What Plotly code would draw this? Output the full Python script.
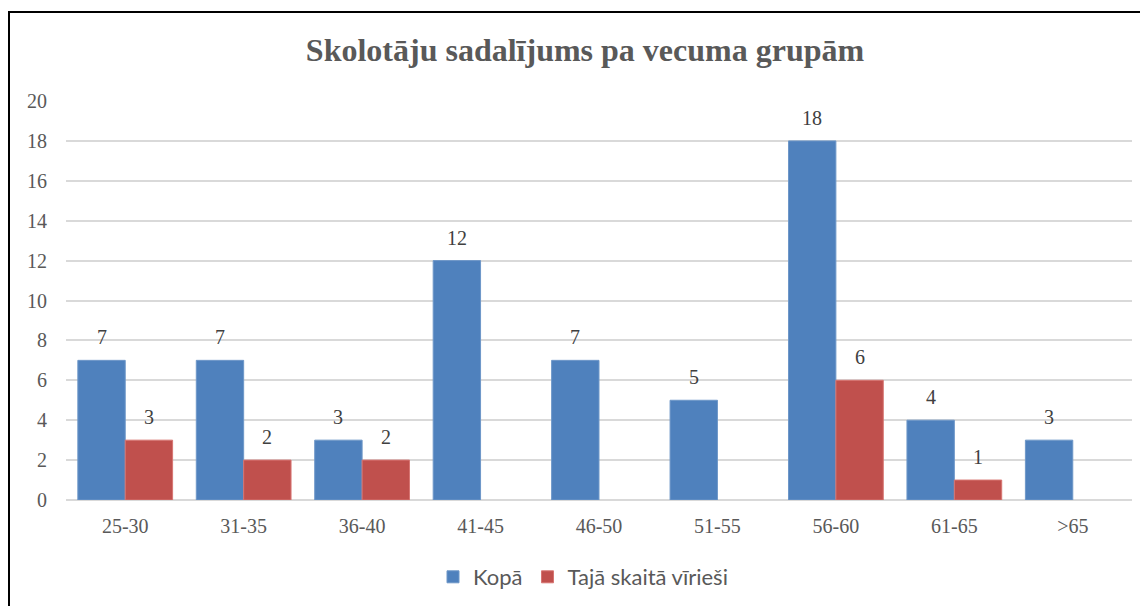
import plotly.graph_objects as go

categories = ["25-30", "31-35", "36-40", "41-45", "46-50", "51-55", "56-60", "61-65", ">65"]
kopa = [7, 7, 3, 12, 7, 5, 18, 4, 3]
viriesi = [3, 2, 2, None, None, None, 6, 1, None]
series_names = ["Kopā", "Tajā skaitā vīrieši"]
title_text = "Skolotāju sadalījums pa vecuma grupām"
y_ticks = list(range(0, 21, 2))

OFF = 8  # page body margin
W, H = 1148 - OFF, 606 - OFF
ML, MR, MT, MB = 66 - OFF, 16, 101 - OFF, 106
PW = W - ML - MR
PH = H - MT - MB
BARGAP = 0.2

blue = "#4F81BD"
red = "#C0504D"

fig = go.Figure()
fig.add_trace(go.Bar(x=categories, y=kopa, name=series_names[0],
                     marker=dict(color=blue, line=dict(color="#6E97C8", width=1))))
fig.add_trace(go.Bar(x=categories, y=viriesi, name=series_names[1],
                     marker=dict(color=red, line=dict(color="#D77572", width=1))))

cat_w = PW / len(categories)
shift = (1 - BARGAP) * cat_w / 4
annotations = []
for vals, sx in ((kopa, -shift), (viriesi, shift)):
    for c, v in zip(categories, vals):
        if v is None:
            continue
        annotations.append(dict(x=c, y=v, xref="x", yref="y", text=str(v),
                                showarrow=False, xshift=sx, yshift=10,
                                yanchor="bottom",
                                font=dict(family="Liberation Serif", size=20, color="#404040")))

fig.update_layout(
    width=W, height=H,
    margin=dict(l=ML, r=MR, t=MT, b=MB, autoexpand=False),
    paper_bgcolor="white", plot_bgcolor="white",
    barmode="group", bargap=BARGAP, bargroupgap=0,
    title=dict(text="<b>" + title_text + "</b>", x=(585 - OFF) / W, xanchor="center",
               y=1 - (50 - OFF) / H, yanchor="middle",
               font=dict(family="Liberation Serif", size=32, color="#595959")),
    xaxis=dict(showgrid=False, showline=False, ticks="", automargin=False,
               tickfont=dict(family="Liberation Serif", size=20, color="#595959"),
               ticklabelstandoff=12),
    yaxis=dict(range=[0, 20], tickvals=y_ticks, showgrid=True, gridcolor="#D9D9D9", gridwidth=1.5,
               zeroline=True, zerolinecolor="#D9D9D9", zerolinewidth=1.5, automargin=False,
               ticks="", ticklabelstandoff=18,
               tickfont=dict(family="Liberation Serif", size=20, color="#595959")),
    legend=dict(orientation="h", x=(583 - OFF) / W, xanchor="center", xref="container",
                y=1 - (577 - OFF) / H, yanchor="middle", yref="container",
                font=dict(family="Lato", size=22, color="#595959"),
                itemwidth=30, traceorder="normal"),
    annotations=annotations,
    shapes=[dict(type="rect", xref="paper", yref="paper",
                 x0=(9 - 66) / PW, x1=1.2, y0=-0.6, y1=1 + (101 - 12) / PH,
                 line=dict(color="black", width=2), fillcolor="rgba(0,0,0,0)", layer="above")],
)

fig.write_html("out.html")
